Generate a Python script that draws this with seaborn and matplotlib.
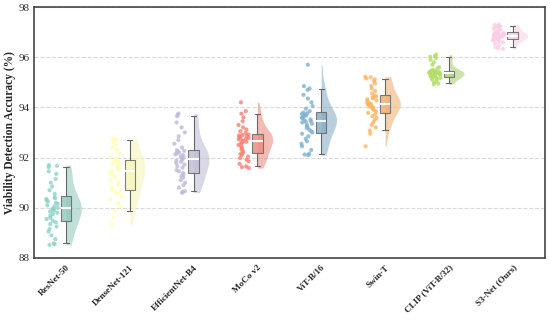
import numpy as np
import pandas as pd
import matplotlib
matplotlib.use("Agg")
import matplotlib.pyplot as plt
from matplotlib.patches import Rectangle
import seaborn as sns

# model names (x categories)
models = ["ResNet-50", "DenseNet-121", "EfficientNet-B4", "MoCo v2",
          "ViT-B/16", "Swin-T", "CLIP (ViT-B/32)", "S3-Net (Ours)"]

# per-run accuracies (%)
resnet50 = [88.52, 88.55, 88.58, 88.75, 88.9, 89.05, 89.15, 89.25, 89.35, 89.42,
            89.48, 89.55, 89.6, 89.68, 89.75, 89.8, 89.85, 89.9, 89.93, 89.96,
            90.0, 90.05, 90.1, 90.15, 90.2, 90.25, 90.3, 90.35, 90.38, 90.42,
            90.55, 90.7, 90.85, 91.0, 91.15, 91.35, 91.45, 91.62, 91.67, 91.7]
densenet121 = [89.35, 89.6, 89.88, 90.05, 90.2, 90.35, 90.45, 90.55, 90.6, 90.66,
               90.72, 90.8, 90.9, 91.0, 91.1, 91.2, 91.28, 91.35, 91.4, 91.43,
               91.46, 91.5, 91.55, 91.6, 91.65, 91.7, 91.75, 91.8, 91.85, 91.88,
               91.95, 92.05, 92.15, 92.3, 92.4, 92.5, 92.66, 92.7, 92.72, 92.75]
efficientnet_b4 = [90.6, 90.63, 90.66, 90.8, 90.9, 91.0, 91.1, 91.2, 91.25, 91.32,
                   91.38, 91.45, 91.5, 91.6, 91.65, 91.72, 91.78, 91.83, 91.88, 91.92,
                   91.96, 92.0, 92.05, 92.1, 92.13, 92.17, 92.2, 92.24, 92.27, 92.29,
                   92.4, 92.55, 92.7, 92.85, 93.0, 93.2, 93.4, 93.65, 93.7, 93.75]
moco_v2 = [91.58, 91.62, 91.65, 91.75, 91.85, 91.92, 91.98, 92.04, 92.1, 92.14,
           92.2, 92.26, 92.32, 92.38, 92.44, 92.5, 92.55, 92.6, 92.63, 92.66,
           92.68, 92.72, 92.75, 92.78, 92.8, 92.83, 92.86, 92.88, 92.9, 92.92,
           92.98, 93.05, 93.12, 93.2, 93.3, 93.45, 93.6, 93.75, 93.85, 94.2]
vit_b16 = [92.1, 92.12, 92.15, 92.3, 92.45, 92.55, 92.65, 92.75, 92.85, 92.95,
           93.0, 93.05, 93.12, 93.18, 93.24, 93.3, 93.35, 93.4, 93.43, 93.46,
           93.48, 93.52, 93.56, 93.6, 93.64, 93.68, 93.71, 93.74, 93.77, 93.79,
           93.85, 93.95, 94.05, 94.2, 94.35, 94.5, 94.7, 94.75, 94.85, 95.7]
swin_t = [92.45, 92.95, 93.08, 93.2, 93.3, 93.4, 93.5, 93.58, 93.65, 93.72,
          93.78, 93.84, 93.9, 93.95, 94.0, 94.03, 94.06, 94.08, 94.1, 94.11,
          94.13, 94.16, 94.2, 94.24, 94.28, 94.32, 94.36, 94.4, 94.44, 94.46,
          94.55, 94.65, 94.75, 94.85, 94.95, 95.05, 95.12, 95.15, 95.2, 95.22]
clip_vitb32 = [94.92, 94.95, 94.98, 95.05, 95.1, 95.13, 95.16, 95.18, 95.2, 95.21,
               95.23, 95.25, 95.27, 95.29, 95.3, 95.32, 95.33, 95.34, 95.35, 95.36,
               95.37, 95.38, 95.39, 95.4, 95.41, 95.42, 95.43, 95.44, 95.45, 95.46,
               95.5, 95.55, 95.6, 95.7, 95.8, 95.9, 95.97, 96.02, 96.05, 96.1]
s3net = [96.33, 96.36, 96.4, 96.48, 96.55, 96.6, 96.64, 96.67, 96.69, 96.7,
         96.72, 96.74, 96.76, 96.78, 96.8, 96.81, 96.82, 96.83, 96.84, 96.85,
         96.87, 96.88, 96.89, 96.9, 96.92, 96.93, 96.95, 96.96, 96.97, 96.98,
         97.02, 97.06, 97.1, 97.14, 97.18, 97.21, 97.23, 97.25, 97.28, 97.3]

all_runs = [resnet50, densenet121, efficientnet_b4, moco_v2,
            vit_b16, swin_t, clip_vitb32, s3net]
df = pd.DataFrame({
    "model": np.repeat(models, [len(v) for v in all_runs]),
    "acc": np.concatenate(all_runs),
})

sns.set_theme(style="white")
plt.rcParams["font.family"] = ["Liberation Serif", "DejaVu Serif"]
palette = sns.color_palette("Set3", 8)

fig = plt.figure(figsize=(5.5, 3.2), dpi=100)
ax = fig.add_axes([0.062, 0.194, 0.928, 0.784])

# half violins: squash the left half onto the centre line
n0 = len(ax.collections)
sns.violinplot(data=df, x="model", y="acc", hue="model", palette=palette,
               order=models, hue_order=models, inner=None, cut=0, width=0.48,
               density_norm="width", linewidth=0, alpha=0.6, legend=False, ax=ax)
for coll in ax.collections[n0:]:
    new_verts = []
    for p in coll.get_paths():
        v = np.array(p.vertices, dtype=float)
        cx = 0.5 * (v[:, 0].min() + v[:, 0].max())
        v[:, 0] = np.maximum(v[:, 0], cx)
        new_verts.append(v)
    coll.set_verts(new_verts)
    coll.set_clip_path(Rectangle((cx, 80), 0.5, 30, transform=ax.transData))

# box plots
sns.boxplot(data=df, x="model", y="acc", hue="model", palette=palette,
            order=models, hue_order=models, width=0.16, whis=(5, 95),
            showfliers=False, linecolor="#666666", linewidth=0.8,
            boxprops=dict(alpha=0.85),
            medianprops=dict(color="white", linewidth=1.5),
            legend=False, ax=ax)

# raw points on the left
n1 = len(ax.collections)
sns.stripplot(data=df, x="model", y="acc", hue="model", palette=palette,
              order=models, hue_order=models, jitter=0.09, size=3,
              alpha=0.8, linewidth=0, legend=False, ax=ax, zorder=3)
for coll in ax.collections[n1:]:
    off = coll.get_offsets()
    off[:, 0] = off[:, 0] - 0.22
    coll.set_offsets(off)

ax.set_xlim(-0.5, 7.5)
ax.set_ylim(88, 98)
ax.set_yticks([88, 90, 92, 94, 96, 98])
ax.yaxis.grid(True, linestyle="--", color="#d9d9d9", linewidth=0.8)
ax.set_axisbelow(True)
ax.set_xlabel("")
ax.set_ylabel("Viability Detection Accuracy (%)", fontsize=8.3, fontweight="bold")
ax.yaxis.set_label_coords(-0.036, 0.5)
ax.tick_params(axis="both", length=0)
ax.tick_params(axis="y", labelsize=8, colors="#333333", pad=3)
ax.tick_params(axis="x", pad=4)
ax.set_xticks(range(len(models)))
ax.set_xticklabels(models, rotation=45, ha="right", rotation_mode="anchor",
                   fontsize=6.6, fontweight="bold")
for s in ax.spines.values():
    s.set_color("#444444")
    s.set_linewidth(1.2)

fig.savefig("out.png", dpi=100)
